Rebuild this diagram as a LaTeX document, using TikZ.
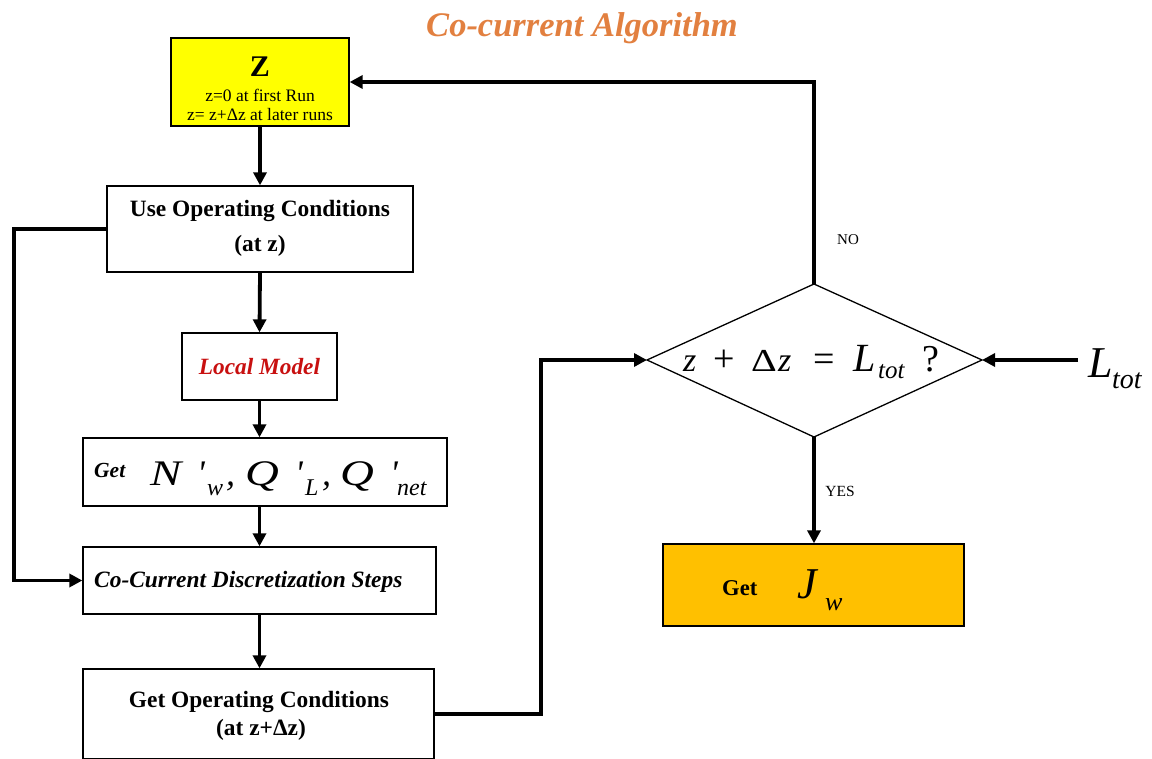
\documentclass[tikz,border=0pt]{standalone}
\usepackage{fontspec}
\setmainfont{Liberation Serif}
\usetikzlibrary{arrows.meta}
\definecolor{titleor}{RGB}{226,128,64}
\definecolor{zyellow}{RGB}{255,255,0}
\definecolor{jworange}{RGB}{255,192,0}
\definecolor{lmred}{RGB}{200,16,16}
\newcommand{\fs}[1]{\fontsize{#1}{#1}\selectfont}
\newcommand{\pc}[2]{\rlap{#1}\hspace*{#2pt}}
\begin{document}
\begin{tikzpicture}[x=1pt,y=-1pt,
  box/.style={draw=black, line width=1.3pt, inner sep=0pt, align=center},
  conn/.style={line width=3.8pt, -{Triangle[length=13pt,width=13pt]}},
  lbl/.style={inner sep=0pt}]
\useasboundingbox (0,0) rectangle (1152,759);
\clip (0,0) rectangle (1152,759);

% title
\node[lbl, font=\fs{34.5}\bfseries\itshape, text=titleor] (title) at (582,28) {Co-current Algorithm};

% z box
\node[box, fill=zyellow, minimum width=178pt, minimum height=88pt] (zbox) at (260,82) {};
\node[lbl, font=\fs{30}\bfseries] (zt1) at (260,67) {Z};
\node[lbl, font=\fs{17.5}] (zt2) at (260,95) {z=0 at first Run};
\node[lbl, font=\fs{17.5}] (zt3) at (260,115) {z= z+Δz at later runs};

% use operating conditions
\node[box, minimum width=306pt, minimum height=86pt] (useop) at (260,229) {};
\node[lbl, font=\fs{23.4}\bfseries] (uo1) at (260,211) {Use Operating Conditions};
\node[lbl, font=\fs{23.4}\bfseries] (uo2) at (260,246) {(at z)};

% local model
\node[box, minimum width=155pt, minimum height=67pt, font=\fs{23.3}\bfseries\itshape, text=lmred] (local) at (259.5,366.5) {Local Model};

% get N'
\node[box, minimum width=364pt, minimum height=68pt] (getn) at (265,472) {};
\node[lbl, font=\fs{21.5}\bfseries\itshape, anchor=west] (gnget) at (94,470) {Get};
\node[lbl, anchor=base west, font=\fs{36}\itshape] (gnf) at (150,485)
 {\pc{\scalebox{1.3}[1]{N}}{47}\pc{\textquotesingle}{10}\pc{\raisebox{-10pt}{\fs{24}w}}{19}\pc{,}{19}%
  \pc{\scalebox{1.3}[1]{Q}}{50}\pc{\textquotesingle}{10}\pc{\raisebox{-10pt}{\fs{24}L}}{17}\pc{,}{18}%
  \pc{\scalebox{1.3}[1]{Q}}{50}\pc{\textquotesingle}{7}\pc{\raisebox{-10pt}{\fs{24}net}}{40}};

% co-current discretization
\node[box, minimum width=353pt, minimum height=67pt] (cocur) at (259.5,580.5) {};
\node[lbl, font=\fs{23.4}\bfseries\itshape, anchor=west] (cct) at (94,582) {Co-Current Discretization Steps};

% get operating conditions
\node[box, minimum width=351pt, minimum height=90pt] (getop) at (258.5,714) {};
\node[lbl, font=\fs{23.4}\bfseries] (go1) at (259,702) {Get Operating Conditions};
\node[lbl, font=\fs{23.4}\bfseries] (go2) at (261,730) {(at z+Δz)};

% decision diamond
\coordinate (dl) at (647,360);
\coordinate (dr) at (982,360);
\coordinate (dt) at (814,284);
\coordinate (db) at (814,437);
\draw[line width=1.3pt] (dl) -- (dt) -- (dr) -- (db) -- cycle;
\node[lbl, anchor=base west, font=\itshape] (dtext) at (683,372)
 {\pc{\fs{34}z}{30}\pc{\fs{38}\upshape +}{38}\pc{\scalebox{1.25}[1]{\fs{32}\upshape Δ}}{27}\pc{\fs{34}z}{35}%
  \pc{\fs{38}\upshape =}{40}\pc{\fs{40}L}{25}\pc{\raisebox{-7pt}{\fs{25}tot}}{44}\pc{\fs{38}\upshape ?}{16}};

% L_tot input
\node[lbl, anchor=base west, font=\itshape] (ltot) at (1088,378)
 {\pc{\fs{44}L}{24}\pc{\raisebox{-10pt}{\fs{28}tot}}{30}};
\coordinate (lstart) at (1078,360);

% get Jw
\node[box, fill=jworange, minimum width=301pt, minimum height=82pt] (jw) at (813.5,585) {};
\node[lbl, anchor=base west, font=\fs{22.6}\bfseries] (jwget) at (722,595) {Get};
\node[lbl, anchor=base west, font=\itshape] (jwf) at (797,598)
 {\pc{\fs{44}J}{28}\pc{\raisebox{-12pt}{\fs{26}w}}{20}};

% labels
\node[lbl, font=\fs{15}] (no) at (848,240) {NO};
\node[lbl, font=\fs{15.5}] (yes) at (840,491) {YES};

% connectors
\draw[conn] (zbox.south) -- (useop.north);
\draw[conn] (useop.south) -- (local.north);
\draw[conn] (local.south) -- (local.south |- getn.north);
\draw[conn] (local.south |- getn.south) -- (local.south |- cocur.north);
\draw[conn] (cocur.south) -- (cocur.south |- getop.north);
\draw[conn] (useop.west) -- ++(-92,0) |- (cocur.west);
\draw[conn] (getop.east) -- ++(106,0) |- (dl);
\draw[conn] (dt) |- (zbox.east);
\draw[conn] (db) -- (db |- jw.north);
\draw[conn] (lstart) -- (dr);
\end{tikzpicture}
\end{document}
